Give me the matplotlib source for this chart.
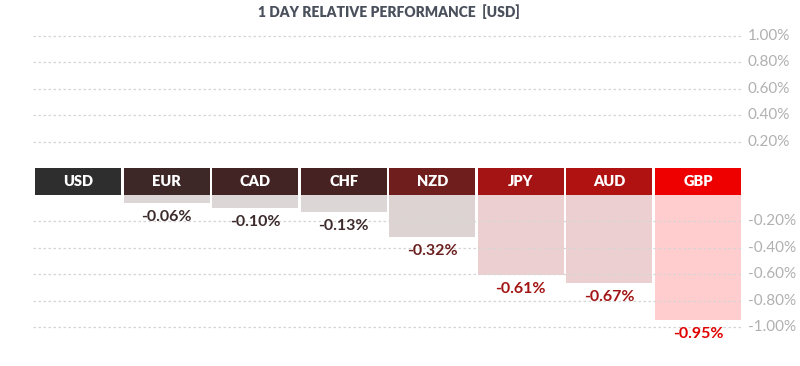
import matplotlib.pyplot as plt

# %% Data

currencies = ["USD", "EUR", "CAD", "CHF", "NZD", "JPY", "AUD", "GBP"]
changes = [0.0, -0.06, -0.10, -0.13, -0.32, -0.61, -0.67, -0.95]

header_colors = ["#2e2e2e", "#3e2727", "#432424", "#472222",
                 "#6f1d1d", "#a51414", "#b01212", "#ee0000"]
bar_colors = ["#dcd6d6", "#dcd6d6", "#dcd6d6", "#dcd6d6",
              "#ddd3d3", "#ecd0d1", "#ecd0d1", "#ffcdcd"]
label_colors = ["#3d2b2b", "#3d2b2b", "#3d2b2b", "#3d2b2b",
                "#6b1f1f", "#a31515", "#a31515", "#e00000"]

tick_values = [1.0, 0.8, 0.6, 0.4, 0.2, -0.2, -0.4, -0.6, -0.8, -1.0]

# The currency header band sits between +0 and -0; values are shifted
# away from it by half its height.
band = 0.1


def to_axis(v):
    return v + band if v >= 0 else v - band


plt.rcParams["font.family"] = ["Lato", "DejaVu Sans"]

fig = plt.figure(figsize=(8, 3.66), dpi=100)
ax = fig.add_axes([33 / 800, 10 / 366, 709 / 800, 350 / 366])

# gridlines
for t in tick_values:
    y = to_axis(t)
    ax.axhline(y, color="#d5d5d5", lw=0.9, ls=(0, (2, 2)), zorder=2)
    ax.text(1.0 + 6 / 709, y, f"{t:.2f}%", transform=ax.get_yaxis_transform(),
            ha="left", va="center", fontsize=11, color="#b0b0b0")

x = list(range(len(currencies)))
width = 0.97

# performance bars (hang from the header band)
for i, v in enumerate(changes):
    if v == 0:
        continue
    ax.bar(i, v, bottom=-band, width=width, color=bar_colors[i], zorder=1)
    ax.annotate(f"{v:.2f}%", (i, v - band), xytext=(0, -10),
                textcoords="offset points", ha="center", va="center",
                fontsize=11.5, fontweight="bold", color=label_colors[i])

# header boxes
ax.bar(x, [2 * band] * len(x), bottom=-band, width=width,
       color=header_colors, zorder=3)
for i, name in enumerate(currencies):
    ax.text(i, 0, name, ha="center", va="center", fontsize=10.5,
            fontweight="heavy", color="white", zorder=4)

ax.set_xlim(-0.508, 7.497)
ax.set_ylim(-1.1 - 29 / 132.3, 1.1 + 30 / 132.3)
ax.axis("off")

fig.text(389 / 800, 1 - 12 / 366, "1 DAY RELATIVE PERFORMANCE  [USD]",
         ha="center", va="center", fontsize=10, fontweight="heavy",
         color="#4a505c")

fig.savefig("out.png", dpi=100, facecolor="white")
